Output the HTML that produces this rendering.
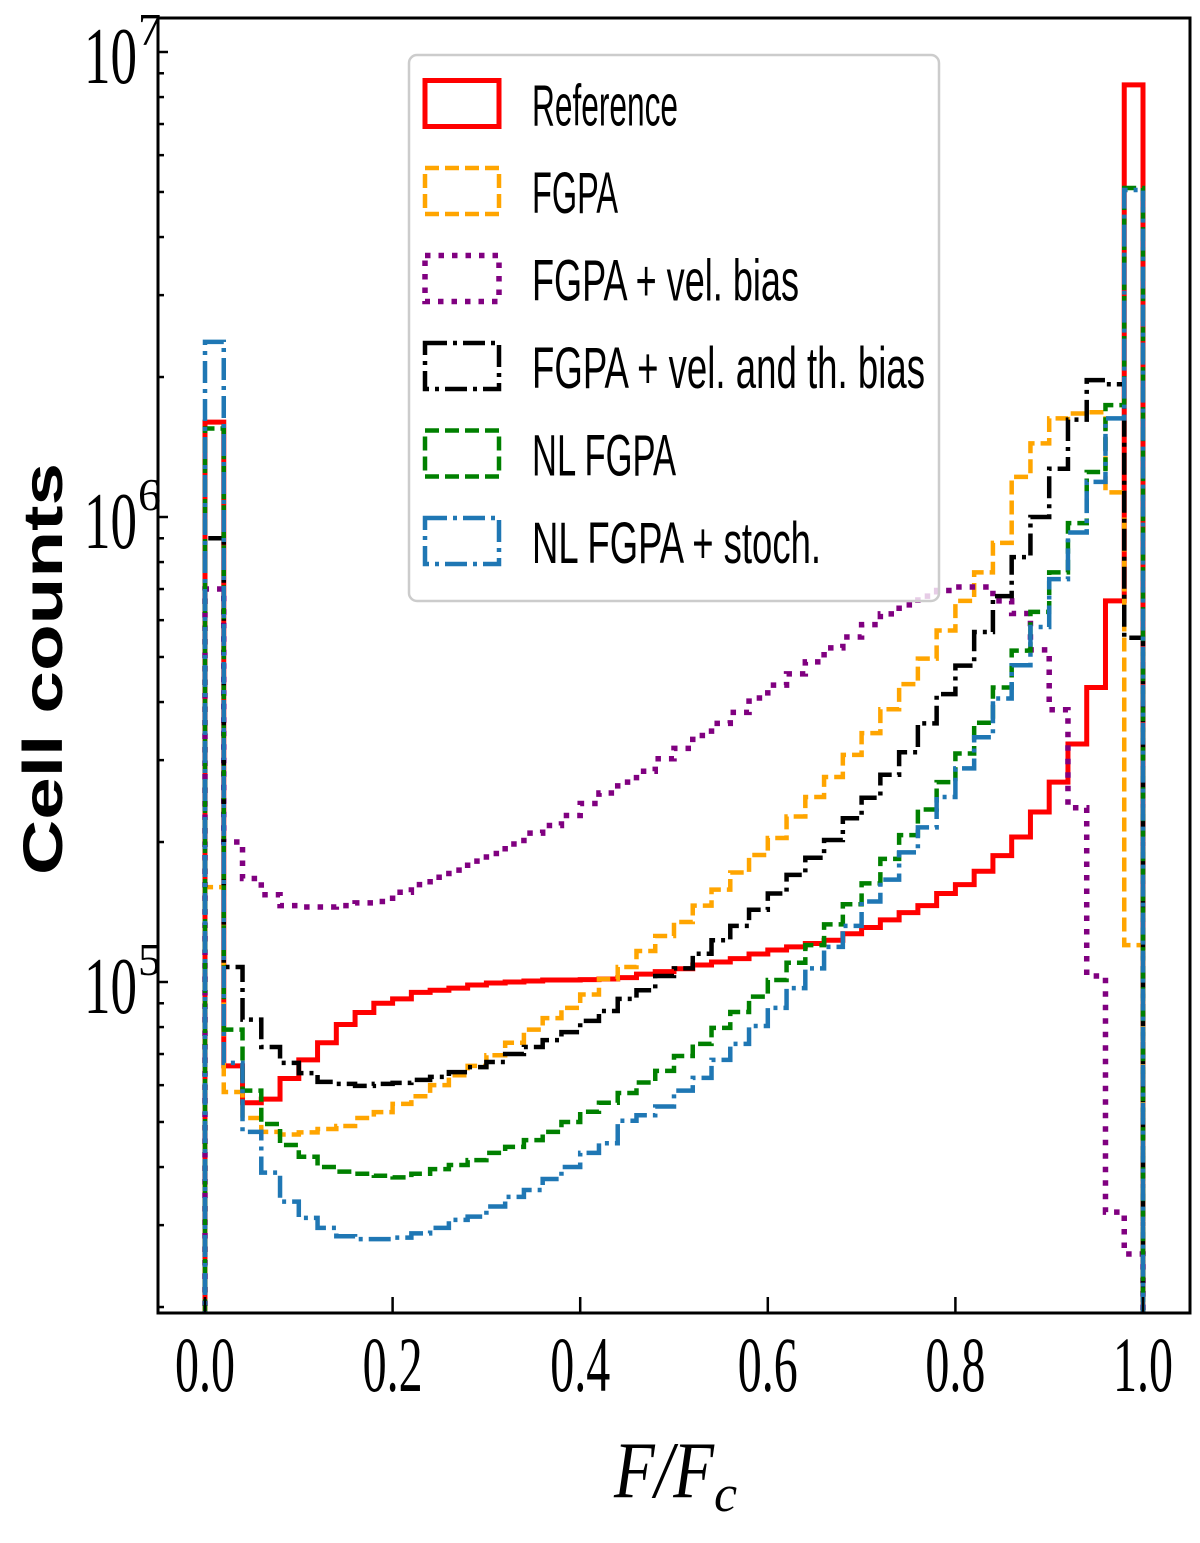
<!DOCTYPE html>
<html><head><meta charset="utf-8"><style>
html,body{margin:0;padding:0;background:#fff;}
svg{display:block;}
</style></head><body>
<svg id="chart" width="1200" height="1543" viewBox="0 0 1200 1543" xmlns="http://www.w3.org/2000/svg">
<defs><clipPath id="plotclip"><rect x="158" y="18" width="1032" height="1295"/></clipPath></defs>
<rect x="0" y="0" width="1200" height="1543" fill="#fff"/>
<g id="series" clip-path="url(#plotclip)"></g>
<g id="axes"></g>
<g id="legend"></g>
</svg>
<script>
// ---- data (50 bins of width 0.02 on F/Fc in [0,1]) ----
const binEdgesStart = 0.0;
const binWidth = 0.02;
const xTickValues = [0.0, 0.2, 0.4, 0.6, 0.8, 1.0];
const xTickLabels = ["0.0", "0.2", "0.4", "0.6", "0.8", "1.0"];
const yDecades = [5, 6, 7];
const seriesNames = ["Reference", "FGPA", "FGPA + vel.  bias", "FGPA + vel.  and th.  bias", "NL FGPA", "NL FGPA + stoch."];

const referenceCounts = [1.6e6, 6.6e4, 5.5e4, 5.6e4, 6.2e4, 6.8e4, 7.4e4, 8.1e4, 8.6e4, 9.0e4,
  9.2e4, 9.5e4, 9.6e4, 9.7e4, 9.85e4, 9.95e4, 1.0e5, 1.005e5, 1.01e5, 1.01e5,
  1.012e5, 1.015e5, 1.022e5, 1.04e5, 1.053e5, 1.068e5, 1.088e5, 1.104e5, 1.123e5, 1.149e5,
  1.172e5, 1.19e5, 1.21e5, 1.23e5, 1.27e5, 1.31e5, 1.36e5, 1.41e5, 1.46e5, 1.55e5,
  1.62e5, 1.73e5, 1.87e5, 2.05e5, 2.32e5, 2.69e5, 3.25e5, 4.3e5, 6.6e5, 8.5e6];
const fgpaCounts = [1.6e5, 5.8e4, 5.1e4, 4.76e4, 4.7e4, 4.75e4, 4.83e4, 4.9e4, 5.1e4, 5.25e4,
  5.47e4, 5.68e4, 6.0e4, 6.3e4, 6.6e4, 6.96e4, 7.4e4, 7.9e4, 8.36e4, 8.8e4,
  9.4e4, 1.015e5, 1.077e5, 1.166e5, 1.256e5, 1.346e5, 1.46e5, 1.58e5, 1.72e5, 1.875e5,
  2.04e5, 2.27e5, 2.5e5, 2.76e5, 3.08e5, 3.43e5, 3.86e5, 4.37e5, 4.96e5, 5.7e5,
  6.6e5, 7.6e5, 8.8e5, 1.22e6, 1.44e6, 1.63e6, 1.67e6, 1.68e6, 1.13e6, 1.2e5];
const velBiasCounts = [7.0e5, 2.0e5, 1.67e5, 1.54e5, 1.46e5, 1.45e5, 1.45e5, 1.46e5, 1.48e5, 1.49e5,
  1.56e5, 1.62e5, 1.68e5, 1.74e5, 1.82e5, 1.89e5, 1.98e5, 2.09e5, 2.17e5, 2.28e5,
  2.42e5, 2.55e5, 2.69e5, 2.84e5, 3.02e5, 3.18e5, 3.39e5, 3.6e5, 3.8e5, 4.08e5,
  4.35e5, 4.6e5, 4.88e5, 5.23e5, 5.52e5, 5.87e5, 6.19e5, 6.47e5, 6.76e5, 6.95e5,
  7.07e5, 7.07e5, 6.6e5, 6.2e5, 5.18e5, 3.85e5, 2.37e5, 1.03e5, 3.2e4, 2.6e4];
const velThBiasCounts = [9.0e5, 1.077e5, 8.3e4, 7.25e4, 6.7e4, 6.37e4, 6.1e4, 6.04e4, 5.98e4, 6.04e4,
  6.07e4, 6.16e4, 6.25e4, 6.4e4, 6.56e4, 6.73e4, 7.0e4, 7.25e4, 7.5e4, 7.8e4,
  8.25e4, 8.66e4, 9.2e4, 9.6e4, 1.03e5, 1.07e5, 1.15e5, 1.23e5, 1.32e5, 1.43e5,
  1.55e5, 1.7e5, 1.85e5, 2.02e5, 2.25e5, 2.49e5, 2.79e5, 3.12e5, 3.6e5, 4.16e5,
  4.79e5, 5.66e5, 6.76e5, 8.2e5, 1.0e6, 1.27e6, 1.62e6, 1.97e6, 1.93e6, 5.5e5];
const nlFgpaCounts = [1.55e6, 7.9e4, 5.84e4, 4.95e4, 4.46e4, 4.21e4, 4.0e4, 3.91e4, 3.87e4, 3.83e4,
  3.8e4, 3.87e4, 3.96e4, 4.04e4, 4.14e4, 4.29e4, 4.42e4, 4.57e4, 4.76e4, 5.0e4,
  5.26e4, 5.5e4, 5.77e4, 6.08e4, 6.44e4, 6.93e4, 7.36e4, 7.97e4, 8.62e4, 9.3e4,
  1.01e5, 1.1e5, 1.2e5, 1.33e5, 1.47e5, 1.63e5, 1.84e5, 2.07e5, 2.35e5, 2.69e5,
  3.1e5, 3.61e5, 4.3e5, 5.16e5, 6.25e5, 7.6e5, 9.7e5, 1.25e6, 1.74e6, 5.1e6];
const nlStochCounts = [2.38e6, 6.7e4, 4.76e4, 3.89e4, 3.37e4, 3.11e4, 2.96e4, 2.84e4, 2.8e4, 2.8e4,
  2.82e4, 2.88e4, 2.96e4, 3.08e4, 3.13e4, 3.29e4, 3.45e4, 3.57e4, 3.77e4, 4.0e4,
  4.29e4, 4.5e4, 5.03e4, 5.17e4, 5.4e4, 5.84e4, 6.22e4, 6.8e4, 7.36e4, 8.04e4,
  8.8e4, 9.7e4, 1.07e5, 1.19e5, 1.32e5, 1.49e5, 1.66e5, 1.9e5, 2.15e5, 2.5e5,
  2.88e5, 3.36e5, 4.07e5, 4.8e5, 5.8e5, 7.35e5, 9.26e5, 1.19e6, 1.63e6, 5.05e6];

// ---- axes mapping ----
const PX0 = 205, PX1 = 1143;   // x=0 and x=1
const PY5 = 982, DEC = 465;    // y pixel at 1e5, pixels per decade
function xs(v){ return PX0 + v*(PX1-PX0); }
function ys(v){ return PY5 - (Math.log10(v)-5)*DEC; }
const PLOT = {l:158, r:1190, t:18, b:1313};

const NS = "http://www.w3.org/2000/svg";
function mk(tag, attrs, parent){
  const e = document.createElementNS(NS, tag);
  for (const k in attrs) e.setAttribute(k, attrs[k]);
  if (parent) parent.appendChild(e);
  return e;
}

const styles = [
  {color:"#ff0000", dash:"", w:5},
  {color:"#ffa500", dash:"14 6", w:4.5},
  {color:"#800080", dash:"5.5 8", w:5.5},
  {color:"#000000", dash:"22 6 4 6", w:4.5},
  {color:"#008000", dash:"14 6", w:4.5},
  {color:"#1f77b4", dash:"22 6 4 6", w:4.5}
];
const allSeries = [referenceCounts, fgpaCounts, velBiasCounts, velThBiasCounts, nlFgpaCounts, nlStochCounts];
const seriesKeys = ["reference", "fgpa", "fgpa-vel-bias", "fgpa-vel-th-bias", "nl-fgpa", "nl-fgpa-stoch"];

const sg = document.getElementById("series");
allSeries.forEach((arr, si) => {
  const bottom = PLOT.b + 20;
  let d = "M" + xs(binEdgesStart).toFixed(2) + " " + bottom;
  arr.forEach((v, i) => {
    const x0 = xs(binEdgesStart + i*binWidth), x1 = xs(binEdgesStart + (i+1)*binWidth);
    const y = ys(v).toFixed(2);
    d += " L" + x0.toFixed(2) + " " + y + " L" + x1.toFixed(2) + " " + y;
  });
  d += " L" + xs(binEdgesStart + arr.length*binWidth).toFixed(2) + " " + bottom;
  const st = styles[si];
  const p = mk("path", {d:d, fill:"none", stroke:st.color, "stroke-width":st.w, "stroke-linejoin":"miter"}, sg);
  if (st.dash) p.setAttribute("stroke-dasharray", st.dash);
  
  
});

// ---- axes ----
const ag = document.getElementById("axes");
const frame = mk("rect", {x:PLOT.l, y:PLOT.t, width:PLOT.r-PLOT.l, height:PLOT.b-PLOT.t, fill:"none", stroke:"#000", "stroke-width":3}, ag);



xTickValues.forEach((v, i) => {
  const x = xs(v);
  const t = mk("line", {x1:x, x2:x, y1:PLOT.b, y2:PLOT.b-16, stroke:"#000", "stroke-width":2.5}, ag);
  
  
  const lb = mk("text", {x:x, y:1391, "text-anchor":"middle", "font-family":"Liberation Serif, serif", "font-size":"78", textLength:"60", lengthAdjust:"spacingAndGlyphs", fill:"#000"}, ag);
  lb.textContent = xTickLabels[i];
  
  
});

// y ticks: major + minor
for (let dcd = 4; dcd <= 7; dcd++) {
  for (let m = 1; m <= 9; m++) {
    const v = m * Math.pow(10, dcd);
    const y = ys(v);
    if (y < PLOT.t || y > PLOT.b) continue;
    const major = (m === 1);
    const t = mk("line", {x1:PLOT.l, x2:PLOT.l + (major ? 10 : 6), y1:y, y2:y, stroke:"#000", "stroke-width":2.5}, ag);
    
    
  }
}
yDecades.forEach(dcd => {
  const y = ys(Math.pow(10, dcd));
  const g = mk("text", {x:84, y:y+31, "font-family":"Liberation Serif, serif", "font-size":"80", fill:"#000"}, ag);
  
  
  const base = mk("tspan", {textLength:"53", lengthAdjust:"spacingAndGlyphs"}, g);
  base.textContent = "10";
  const sup = mk("tspan", {dx:"1", dy:"-38", "font-size":"46"}, g);
  sup.textContent = String(dcd);
});

const ylab = mk("text", {x:0, y:0, transform:"translate(62,669) rotate(-90)", "text-anchor":"middle", "font-family":"Liberation Sans, sans-serif", "font-size":"56", "font-weight":"bold", textLength:"412", lengthAdjust:"spacingAndGlyphs", fill:"#000"}, ag);
ylab.textContent = "Cell counts";



const xlab = mk("text", {x:614, y:1497, "font-family":"Liberation Serif, serif", "font-size":"80", "font-style":"italic", fill:"#000"}, ag);


const xl1 = mk("tspan", {textLength:"100", lengthAdjust:"spacingAndGlyphs"}, xlab); xl1.textContent = "F/F";
const xl2 = mk("tspan", {dy:"14", "font-size":"52"}, xlab); xl2.textContent = "c";

// ---- legend ----
const lg = document.getElementById("legend");
const lbox = mk("rect", {x:409, y:55, width:530, height:546, rx:8, ry:8, fill:"#fff", "fill-opacity":0.8, stroke:"#cccccc", "stroke-width":2.5}, lg);


const textLens = [146, 86, 267, 393, 144, 289];
seriesNames.forEach((name, i) => {
  const cy = 103.5 + i*87.5;
  const st = styles[i];
  const h = mk("rect", {x:425, y:cy-23, width:74, height:46, fill:"none", stroke:st.color, "stroke-width":st.w}, lg);
  if (st.dash) h.setAttribute("stroke-dasharray", st.dash);
  
  
  const t = mk("text", {x:532, y:cy+22, "font-family":"Liberation Sans, sans-serif", "font-size":"58", textLength:textLens[i], lengthAdjust:"spacingAndGlyphs", fill:"#000"}, lg);
  t.textContent = name;
  
  
});
</script>
</body></html>
